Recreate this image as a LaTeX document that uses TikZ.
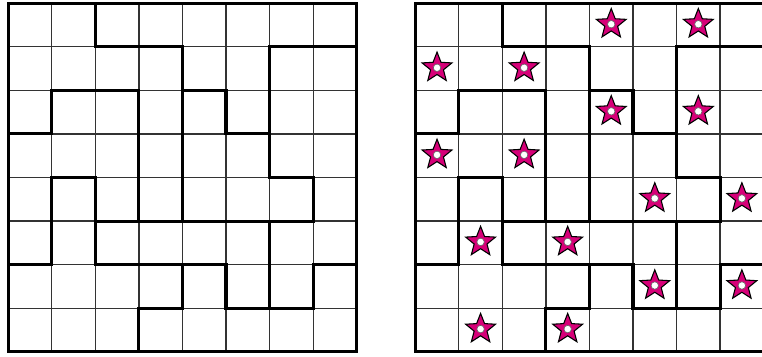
\documentclass[tikz,border=0pt]{standalone}
\definecolor{starpink}{RGB}{214,0,120}

\begin{document}
\begin{tikzpicture}[x=1cm,y=1cm,line cap=rect,
  cellgrid/.style={line width=0.8pt,draw=black!80},
  wall/.style={line width=2pt,line join=miter}]
\useasboundingbox (-0.19,-0.099) rectangle (17.307,8.076);
% 区域粗边界（两幅图相同）
\newcommand{\puzzlewalls}{
  \draw[wall] (2,8) -- (2,7) -- (4,7) -- (4,3);
  \draw[wall] (8,7) -- (6,7) -- (6,4) -- (7,4) -- (7,3);
  \draw[wall] (0,5) -- (1,5) -- (1,6) -- (3,6) -- (3,3);
  \draw[wall] (4,6) -- (5,6) -- (5,5) -- (6,5);
  \draw[wall] (0,2) -- (1,2) -- (1,4) -- (2,4) -- (2,2) -- (5,2);
  \draw[wall] (2,3) -- (7,3);
  \draw[wall] (5,2) -- (5,1) -- (6,1) -- (6,3);
  \draw[wall] (6,1) -- (7,1) -- (7,2) -- (8,2);
  \draw[wall] (3,0) -- (3,1) -- (4,1) -- (4,2);
  \draw[wall] (0,0) rectangle (8,8);
}
% 星形，#1 = 列，#2 = 行（自上而下）
\newcommand{\puzzlestar}[2]{
  \begin{scope}[shift={(#1+0.5,7.52-#2)}]
  \filldraw[fill=starpink,line width=0.7pt,line join=miter]
    (90:0.36) -- (126:0.155) -- (162:0.36) -- (198:0.155) -- (234:0.36) --
    (270:0.155) -- (306:0.36) -- (342:0.155) -- (18:0.36) -- (54:0.155) -- cycle;
  \filldraw[fill=white,draw=black!60,line width=0.4pt] (0,0) circle (0.085);
  \end{scope}
}
% ---------- 左：空白题目 ----------
\begin{scope}
\draw[cellgrid] (0,0) grid (8,8);
\puzzlewalls
\end{scope}
% ---------- 右：答案（每行、每列、每区两颗星） ----------
\begin{scope}[shift={(9.345,0)}]
\draw[cellgrid] (0,0) grid (8,8);
\puzzlewalls
\foreach \c/\r in {4/0,6/0,0/1,2/1,4/2,6/2,0/3,2/3,5/4,7/4,1/5,3/5,5/6,7/6,1/7,3/7}{
  \puzzlestar{\c}{\r}
}
\end{scope}
\end{tikzpicture}
\end{document}
